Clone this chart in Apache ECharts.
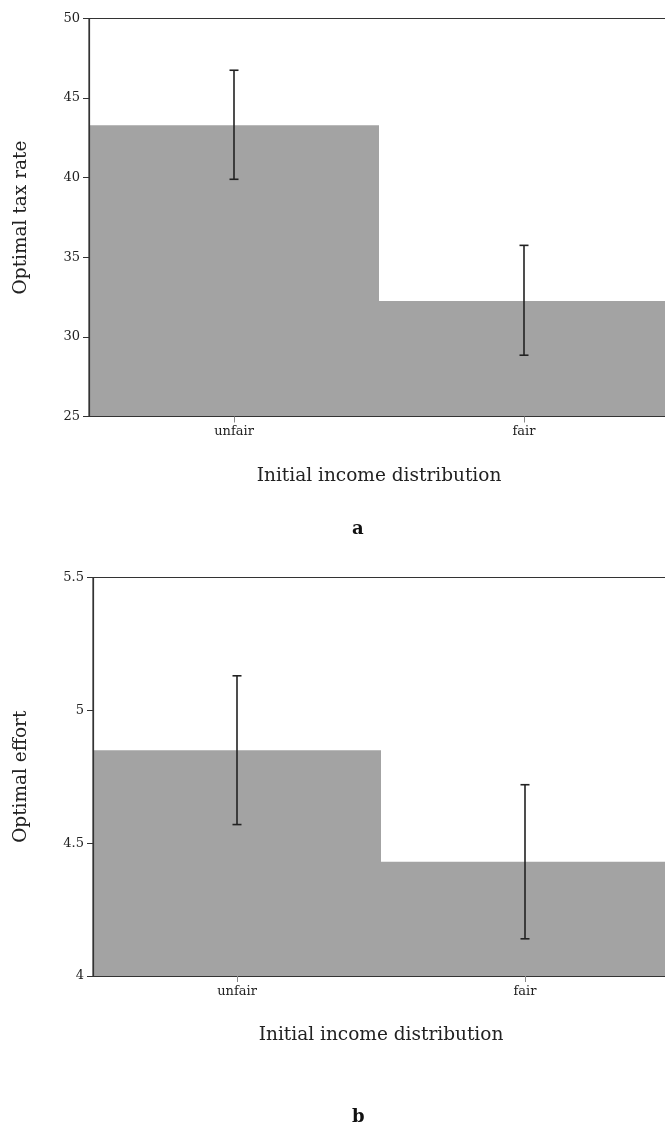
<!DOCTYPE html>
<html>
<head>
<meta charset="utf-8">
<script src="https://cdn.jsdelivr.net/npm/echarts@6/dist/echarts.min.js"></script>
<style>
  html, body { margin: 0; padding: 0; background: #fff; }
  #chart { width: 665px; height: 1127px; }
</style>
</head>
<body>
<div id="chart"></div>
<script>
// Income distribution treatments
const categories = ['unfair', 'fair'];

// Panel a: optimal tax rate (mean with confidence interval)
const taxRate = [43.3, 32.25];
const taxRateLow = [39.9, 28.85];
const taxRateHigh = [46.75, 35.75];
const taxAxis = [25, 50, 5]; // min, max, step

// Panel b: optimal effort (mean with confidence interval)
const effort = [4.85, 4.43];
const effortLow = [4.57, 4.14];
const effortHigh = [5.13, 4.72];
const effortAxis = [4, 5.5, 0.5]; // min, max, step

const FONT = '"DejaVu Serif", "Liberation Serif", serif';
const INK = '#222';
const BAR = '#a3a3a3';

function errorData(low, high) {
  return categories.map((c, i) => [i, low[i], high[i]]);
}

function errorBar(params, api) {
  const x = api.value(0);
  const lo = api.coord([x, api.value(1)]);
  const hi = api.coord([x, api.value(2)]);
  const cap = 4.5;
  const style = { stroke: INK, lineWidth: 1.6 };
  return {
    type: 'group',
    children: [
      { type: 'line', shape: { x1: lo[0], y1: lo[1], x2: hi[0], y2: hi[1] }, style },
      { type: 'line', shape: { x1: hi[0] - cap, y1: hi[1], x2: hi[0] + cap, y2: hi[1] }, style },
      { type: 'line', shape: { x1: lo[0] - cap, y1: lo[1], x2: lo[0] + cap, y2: lo[1] }, style }
    ]
  };
}

function xAxisFor(gridIndex) {
  return {
    type: 'category',
    gridIndex,
    data: categories,
    boundaryGap: true,
    z: 10,
    name: 'Initial income distribution',
    nameLocation: 'middle',
    nameGap: 50,
    nameTextStyle: { fontFamily: FONT, fontSize: 18.5, color: INK },
    axisLine: { show: true, lineStyle: { color: '#333', width: 1.2 } },
    axisTick: { show: true, alignWithLabel: true, length: 6, lineStyle: { color: '#888' } },
    axisLabel: { fontFamily: FONT, fontSize: 13, color: '#222', margin: 9 },
    splitLine: { show: false }
  };
}

function yAxisFor(gridIndex, bounds, title, gap) {
  return {
    type: 'value',
    gridIndex,
    min: bounds[0],
    max: bounds[1],
    interval: bounds[2],
    z: 10,
    name: title,
    nameLocation: 'middle',
    nameGap: gap,
    nameTextStyle: { fontFamily: FONT, fontSize: 18.5, color: INK },
    axisLine: { show: true, lineStyle: { color: '#333', width: 1.2 } },
    axisTick: { show: true, length: 6, lineStyle: { color: '#333' } },
    axisLabel: { fontFamily: FONT, fontSize: 13, color: '#222', margin: 9 },
    splitLine: { show: false }
  };
}

const chart = echarts.init(document.getElementById('chart'), null, { renderer: 'canvas' });

chart.setOption({
  animation: false,
  backgroundColor: '#fff',
  grid: [
    { left: 89, top: 18.5, width: 580, height: 398, outerBoundsMode: 'none', containLabel: false,
      show: true, borderColor: '#333', borderWidth: 1.2, backgroundColor: 'transparent' },
    { left: 93, top: 577.5, width: 576, height: 398.5, outerBoundsMode: 'none', containLabel: false,
      show: true, borderColor: '#333', borderWidth: 1.2, backgroundColor: 'transparent' }
  ],
  xAxis: [xAxisFor(0), xAxisFor(1)],
  yAxis: [
    yAxisFor(0, taxAxis, 'Optimal tax rate', 58),
    yAxisFor(1, effortAxis, 'Optimal effort', 62)
  ],
  series: [
    {
      type: 'bar', xAxisIndex: 0, yAxisIndex: 0,
      data: taxRate, barWidth: '100%', barGap: '0%',
      itemStyle: { color: BAR }, z: 2
    },
    {
      type: 'custom', xAxisIndex: 0, yAxisIndex: 0,
      data: errorData(taxRateLow, taxRateHigh),
      renderItem: errorBar, z: 5
    },
    {
      type: 'bar', xAxisIndex: 1, yAxisIndex: 1,
      data: effort, barWidth: '100%', barGap: '0%',
      itemStyle: { color: BAR }, z: 2
    },
    {
      type: 'custom', xAxisIndex: 1, yAxisIndex: 1,
      data: errorData(effortLow, effortHigh),
      renderItem: errorBar, z: 5
    }
  ],
  graphic: [
    { type: 'text', left: 352, top: 520, style: { text: 'a', font: 'bold 18px ' + FONT, fill: '#111' } },
    { type: 'text', left: 352, top: 1108, style: { text: 'b', font: 'bold 18px ' + FONT, fill: '#111' } }
  ]
});
</script>
</body>
</html>
